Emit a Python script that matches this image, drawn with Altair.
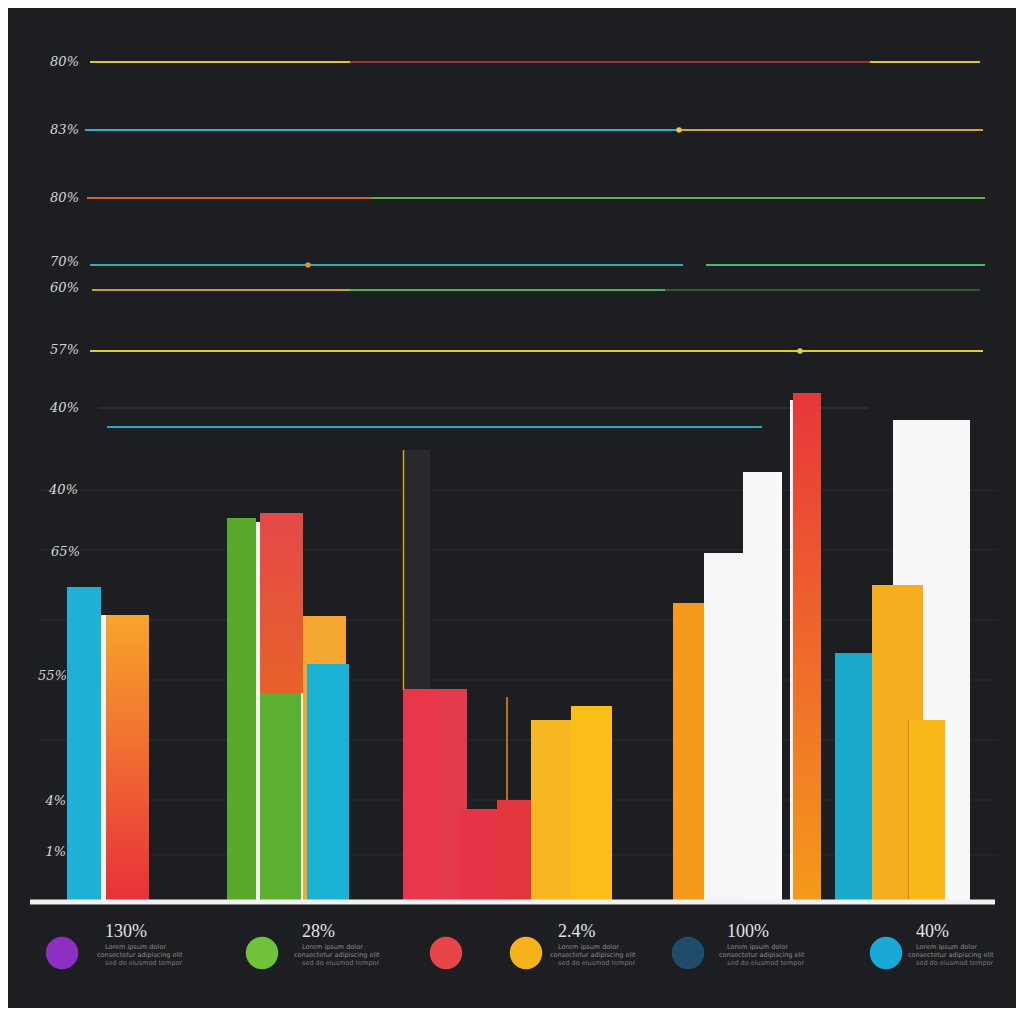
import altair as alt
import pandas as pd

# ---------------- data ----------------
# bars: x start, x end, bottom, top (chart units), fill colour
bar_x0 = [5.9, 9.3, 21.9, 24.8, 25.2, 29.3, 29.5, 29.9, 39.5, 39.5, 42.9, 45.2, 48.9, 52.3, 56.3,
          66.5, 69.6, 73.5, 78.2, 88.5, 82.7, 86.4, 90.0, 90.1]
bar_x1 = [9.3, 9.8, 24.8, 25.2, 29.5, 29.7, 33.8, 34.1, 42.2, 42.9, 45.9, 48.9, 52.3, 56.3, 60.4,
          69.6, 73.5, 77.4, 78.5, 96.2, 86.4, 91.5, 90.2, 93.7]
bar_y0 = [0] * 24
bar_y1 = [31.3, 28.5, 38.2, 37.8, 20.7, 28.4, 28.4, 23.6, 45.0, 21.1, 21.1, 9.1, 10.0, 18.0, 19.4,
          29.7, 34.7, 42.8, 50.0, 48.0, 24.7, 31.5, 18.0, 18.0]
bar_col = ["#1fb0d6", "#f4f4f4", "#5aa92a", "#f4f4f4", "#5cb030", "#f4f4f4", "#f3a630", "#1ab2d2",
           "#29292c", "#e8364a", "#e33a4c", "#e63346", "#e2363f", "#f7b824", "#fbbd18",
           "#f6991c", "#f6f6f6", "#f8f8f8", "#f4f4f4", "#f8f8f8", "#1aa9c8", "#f5ad1e", "#d08a12", "#fab81a"]

# gradient bars
g1 = {"x0": [9.8], "x1": [14.1], "y0": [0], "y1": [28.5]}          # orange -> red
g2 = {"x0": [25.2], "x1": [29.5], "y0": [20.7], "y1": [38.7]}       # red -> orange-red
g3 = {"x0": [78.5], "x1": [81.3], "y0": [0], "y1": [50.7]}          # red -> orange

# thin vertical marker lines
vline_x = [39.55, 49.9]
vline_y0 = [21.0, 10.0]
vline_y1 = [45.0, 20.3]
vline_col = ["#d4a21a", "#e8892a"]

# horizontal reference lines
hline_y = [83.8, 83.8, 77.0, 77.0, 70.2, 70.2, 63.5, 63.5, 61.0, 61.0, 61.0, 54.9, 47.3, 49.2]
hline_x0 = [8.2, 34.2, 7.7, 67.2, 7.9, 36.4, 8.2, 69.8, 8.4, 34.2, 65.7, 8.2, 9.9, 9.0]
hline_x1 = [97.2, 86.2, 67.2, 97.5, 36.4, 97.7, 67.5, 97.7, 34.2, 65.7, 97.2, 97.5, 75.4, 86.0]
hline_col = ["#e2c42c", "#a8302a", "#2ab3c2", "#d8a43c", "#d2642e", "#62b04a", "#2ab0b8", "#3cc06a",
             "#c9a032", "#4caf50", "#2e5a2e", "#dcd02e", "#2aa8c8", "#2a2b2f"]

# faint grid lines
grid_y = [41.0, 35.0, 28.0, 22.0, 16.0, 10.0, 4.5]

# dots on reference lines
dot_x = [67.1, 30.0, 79.2]
dot_y = [77.0, 63.5, 54.9]
dot_col = ["#e6c25a", "#e8902a", "#e8d040"]

# axis labels
ylab_y = [83.8, 77.0, 70.2, 63.8, 61.2, 55.0, 49.2, 41.0, 34.8, 22.4, 9.9, 4.8]
ylab_x = [7.1, 7.1, 7.1, 7.1, 7.1, 7.1, 7.1, 7.0, 7.2, 5.9, 5.8, 5.8]
ylab_text = ["80%", "83%", "80%", "70%", "60%", "57%", "40%", "40%", "65%", "55%", "4%", "1%"]

# legend
leg_x = [5.4, 25.4, 43.8, 51.8, 68.0, 87.8]
leg_col = ["#8e2fc4", "#6fc23a", "#e8454a", "#f6b21b", "#1f4c68", "#1aa8d8"]
leg_lab_x = [9.7, 29.4, 55.0, 71.9, 90.8]
leg_lab = ["130%", "28%", "2.4%", "100%", "40%"]
desc1 = ["Lorem ipsum dolor", "Lorem ipsum dolor", "Lorem ipsum dolor", "Lorem ipsum dolor", "Lorem ipsum dolor"]
desc2 = ["consectetur adipiscing elit", "consectetur adipiscing elit", "consectetur adipiscing elit",
         "consectetur adipiscing elit", "consectetur adipiscing elit"]
desc3 = ["sed do eiusmod tempor", "sed do eiusmod tempor", "sed do eiusmod tempor",
         "sed do eiusmod tempor", "sed do eiusmod tempor"]

# ---------------- chart ----------------
xs = alt.Scale(domain=[0, 100.8], nice=False, zero=False)
ys = alt.Scale(domain=[-10.8, 89.2], nice=False, zero=False)

def X(f):
    return alt.X(f, type="quantitative", scale=xs, axis=None)

def Y(f):
    return alt.Y(f, type="quantitative", scale=ys, axis=None)

bars_df = pd.DataFrame({"x0": bar_x0, "x1": bar_x1, "y0": bar_y0, "y1": bar_y1, "c": bar_col,
                        "o": list(range(len(bar_x0)))})

grid = alt.Chart(pd.DataFrame({"y": grid_y})).mark_rule(color="#2a2b2f", strokeWidth=1).encode(
    x=alt.value(30), x2=alt.value(990), y=Y("y"))

hl = alt.Chart(pd.DataFrame({"y": hline_y, "x0": hline_x0, "x1": hline_x1, "c": hline_col})).mark_rule(
    strokeWidth=2).encode(x=X("x0"), x2="x1", y=Y("y"), color=alt.Color("c:N", scale=None))

dots = alt.Chart(pd.DataFrame({"x": dot_x, "y": dot_y, "c": dot_col})).mark_circle(size=30, opacity=1).encode(
    x=X("x"), y=Y("y"), color=alt.Color("c:N", scale=None))

ylabs = alt.Chart(pd.DataFrame({"y": ylab_y, "x": ylab_x, "t": ylab_text})).mark_text(
    align="right", baseline="middle", font="DejaVu Serif", fontStyle="italic", fontSize=13,
    color="#d6d6d6").encode(x=X("x"), y=Y("y"), text="t:N")

bars = alt.Chart(bars_df).mark_bar(cornerRadius=0).encode(
    x=X("x0"), x2="x1", y=Y("y0"), y2="y1", color=alt.Color("c:N", scale=None),
    order=alt.Order("o:Q"))

def grad_layer(d, top, bottom):
    return alt.Chart(pd.DataFrame(d)).mark_bar(
        color=alt.Gradient(gradient="linear", x1=0, x2=0, y1=0, y2=1,
                           stops=[alt.GradientStop(color=top, offset=0),
                                  alt.GradientStop(color=bottom, offset=1)])
    ).encode(x=X("x0"), x2="x1", y=Y("y0"), y2="y1")

gb1 = grad_layer(g1, "#f7a52a", "#e8303a")
gb2 = grad_layer(g2, "#e44848", "#e8622a")
gb3 = grad_layer(g3, "#e8363a", "#f59a1c")

vl = alt.Chart(pd.DataFrame({"x": vline_x, "y0": vline_y0, "y1": vline_y1, "c": vline_col})).mark_rule(
    strokeWidth=1.5).encode(x=X("x"), y=Y("y0"), y2="y1", color=alt.Color("c:N", scale=None))

baseline = alt.Chart(pd.DataFrame({"x0": [2.2], "x1": [98.7], "y": [-0.2]})).mark_rule(
    color="#f2f2f2", strokeWidth=5).encode(x=X("x0"), x2="x1", y=Y("y"))

legc = alt.Chart(pd.DataFrame({"x": leg_x, "c": leg_col, "y": [-5.3] * 6})).mark_circle(
    size=1050, opacity=1).encode(x=X("x"), y=Y("y"), color=alt.Color("c:N", scale=None))

ldf = pd.DataFrame({"x": leg_lab_x, "t": leg_lab, "d1": desc1, "d2": desc2, "d3": desc3})
legt = alt.Chart(ldf).mark_text(align="left", baseline="middle", font="Liberation Serif", fontSize=18,
                                color="#e4e4e4").encode(x=X("x"), y=alt.value(924), text="t:N")
legd1 = alt.Chart(ldf).mark_text(align="left", baseline="middle", font="DejaVu Sans", fontSize=6.5,
                                 color="#8c8c8c").encode(x=X("x"), y=alt.value(939), text="d1:N")
legd2 = alt.Chart(ldf).mark_text(align="left", baseline="middle", font="DejaVu Sans", fontSize=6.5,
                                 color="#8c8c8c", dx=-8).encode(x=X("x"), y=alt.value(947), text="d2:N")
legd3 = alt.Chart(ldf).mark_text(align="left", baseline="middle", font="DejaVu Sans", fontSize=6.5,
                                 color="#7a7a7a").encode(x=X("x"), y=alt.value(955), text="d3:N")

chart = alt.layer(grid, hl, dots, bars, gb1, gb2, gb3, vl, baseline, ylabs, legc, legt, legd1, legd2, legd3
).properties(
    width=1008, height=1000, background="#1d1e21", padding=0,
    autosize=alt.AutoSizeParams(type="none")
).configure_view(strokeWidth=0)

chart.save("out.html", embed_options={"renderer": "svg", "actions": False})
